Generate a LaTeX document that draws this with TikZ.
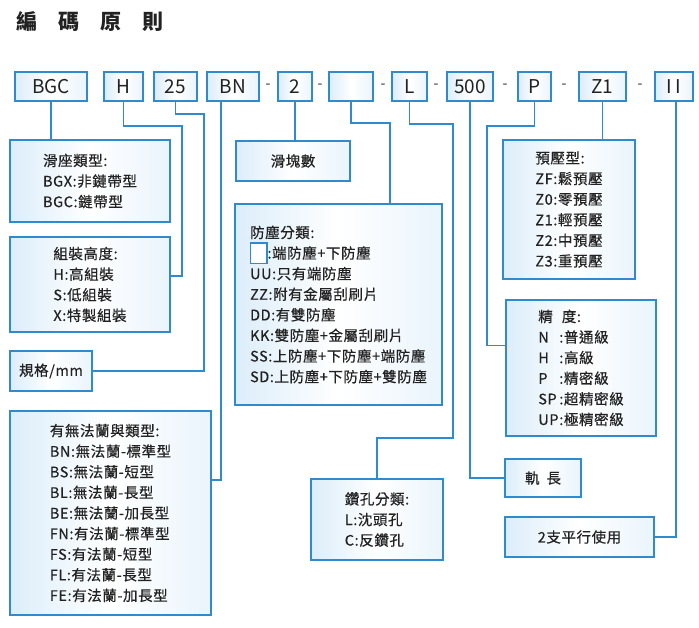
\documentclass[tikz,border=0pt]{standalone}
\usepackage{fontspec}
\usepackage{xcolor}
\setmainfont{Noto Sans CJK TC}
\newfontfamily\boxfont[LetterSpace=4,FakeBold=0.5]{Noto Sans CJK TC}
\definecolor{linkblue}{RGB}{48,138,206}
\definecolor{boxfill}{RGB}{220,237,250}
\definecolor{titlegrey}{RGB}{34,34,34}
\newcommand{\emptybox}{{\fboxsep=0pt\fboxrule=1.2pt\fcolorbox{linkblue}{white}{\rule[-4pt]{0pt}{19pt}\hspace{15pt}}}}
\newcommand{\gradecode}[1]{\makebox[21pt][l]{#1}}

\begin{document}
\begin{tikzpicture}[x=1pt,y=-1pt,
  codebox/.style={draw=linkblue, line width=1.3pt, left color=boxfill, right color=boxfill!60!white, middle color=white, minimum height=29pt, inner sep=0pt, text=titlegrey, font=\fontsize{19}{19}\selectfont},
  infobox/.style={draw=linkblue, line width=1.3pt, left color=boxfill, right color=boxfill!60!white, middle color=white, inner sep=0pt, align=left, text=titlegrey, font=\boxfont\fontsize{14.5}{20.6}\selectfont},
  link/.style={draw=linkblue, line width=1.3pt}]
\useasboundingbox (0,0) rectangle (699,627);
\node[anchor=west, text=titlegrey, font=\bfseries\fontsize{21}{21}\selectfont, inner sep=0pt] (title) at (16,22) {編\quad 碼\quad 原\quad 則};

\node[codebox, minimum width=72pt] (bgc) at (51,86.5) {BGC};
\node[codebox, minimum width=39pt] (h) at (123.5,86.5) {H};
\node[codebox, minimum width=43pt] (n25) at (175.5,86.5) {25};
\node[codebox, minimum width=52pt] (bn) at (233,86.5) {BN};
\node[codebox, minimum width=34pt] (n2) at (295,86.5) {2};
\node[codebox, minimum width=44pt] (seal) at (351,86.5) {};
\node[codebox, minimum width=35pt] (l) at (409.5,86.5) {L};
\node[codebox, minimum width=46pt] (n500) at (470,86.5) {500};
\node[codebox, minimum width=33pt] (p) at (534.5,86.5) {P};
\node[codebox, minimum width=47pt] (z1) at (602.5,86.5) {Z1};
\node[codebox, minimum width=38pt] (ii) at (674,86.5) {I\,I};
\foreach \x/\n in {268/1,320/2,383/3,436/4,505/5,564/6,640/7}
  \node[text=titlegrey, font=\fontsize{14}{14}\selectfont] (dash\n) at (\x,86.5) {-};

\node[infobox, minimum width=160pt, minimum height=82pt] (slide) at (90,181) {滑座類型:\\BGX:非鏈帶型\\BGC:鏈帶型};
\node[infobox, minimum width=160pt, minimum height=95pt] (height) at (90,284.5) {組裝高度:\\H:高組裝\\S:低組裝\\X:特製組裝};
\node[infobox, minimum width=82pt, minimum height=40pt] (spec) at (51,371) {規格/mm};
\node[infobox, minimum width=201pt, minimum height=204pt] (flange) at (110.5,513) {有無法蘭與類型:\\BN:無法蘭-標準型\\BS:無法蘭-短型\\BL:無法蘭-長型\\BE:無法蘭-加長型\\FN:有法蘭-標準型\\FS:有法蘭-短型\\FL:有法蘭-長型\\FE:有法蘭-加長型};
\node[infobox, minimum width=114pt, minimum height=40pt] (blocks) at (293,161) {滑塊數};
\node[infobox, minimum width=207pt, minimum height=201pt] (dust) at (338.5,304.5) {防塵分類:\\\emptybox:端防塵+下防塵\\UU:只有端防塵\\ZZ:附有金屬刮刷片\\DD:有雙防塵\\KK:雙防塵+金屬刮刷片\\SS:上防塵+下防塵+端防塵\\SD:上防塵+下防塵+雙防塵};
\node[infobox, minimum width=132pt, minimum height=81pt] (hole) at (377,519.5) {鑽孔分類:\\L:沈頭孔\\C:反鑽孔};
\node[infobox, minimum width=132pt, minimum height=139pt] (preload) at (569,209.5) {預壓型:\\ZF:鬆預壓\\Z0:零預壓\\Z1:輕預壓\\Z2:中預壓\\Z3:重預壓};
\node[infobox, minimum width=150pt, minimum height=136pt] (grade) at (581,368) {精\hspace{9pt}度:\\\gradecode{N}:普通級\\\gradecode{H}:高級\\\gradecode{P}:精密級\\\gradecode{SP}:超精密級\\\gradecode{UP}:極精密級};
\node[infobox, minimum width=76pt, minimum height=38pt] (rail) at (543,478) {軌\hspace{7pt}長};
\node[infobox, minimum width=149pt, minimum height=40pt] (pair) at (579.5,537) {2支平行使用};

\draw[link] (bgc.south) -- (bgc.south |- slide.north);
\draw[link] (h.south) |- (182,126) |- ([yshift=8.5pt]height.east);
\draw[link] (n25.south) |- (204,114) |- (spec.east);
\draw[link] ([xshift=-12pt]bn.south) |- ([yshift=33pt]flange.east);
\draw[link] (n2.south) -- (n2.south |- blocks.north);
\draw[link] (seal.south) |- (390,123) -- ([xshift=51.5pt]dust.north);
\draw[link] (l.south) |- (453,124) |- (376,438) -| (hole.north);
\draw[link] (n500.south) |- (rail.west);
\draw[link] (p.south) |- (487,126) |- ([yshift=22.5pt]grade.west);
\draw[link] (z1.south) -- (z1.south |- preload.north);
\draw[link] ([xshift=2pt]ii.south) |- (pair.east);
\end{tikzpicture}
\end{document}
